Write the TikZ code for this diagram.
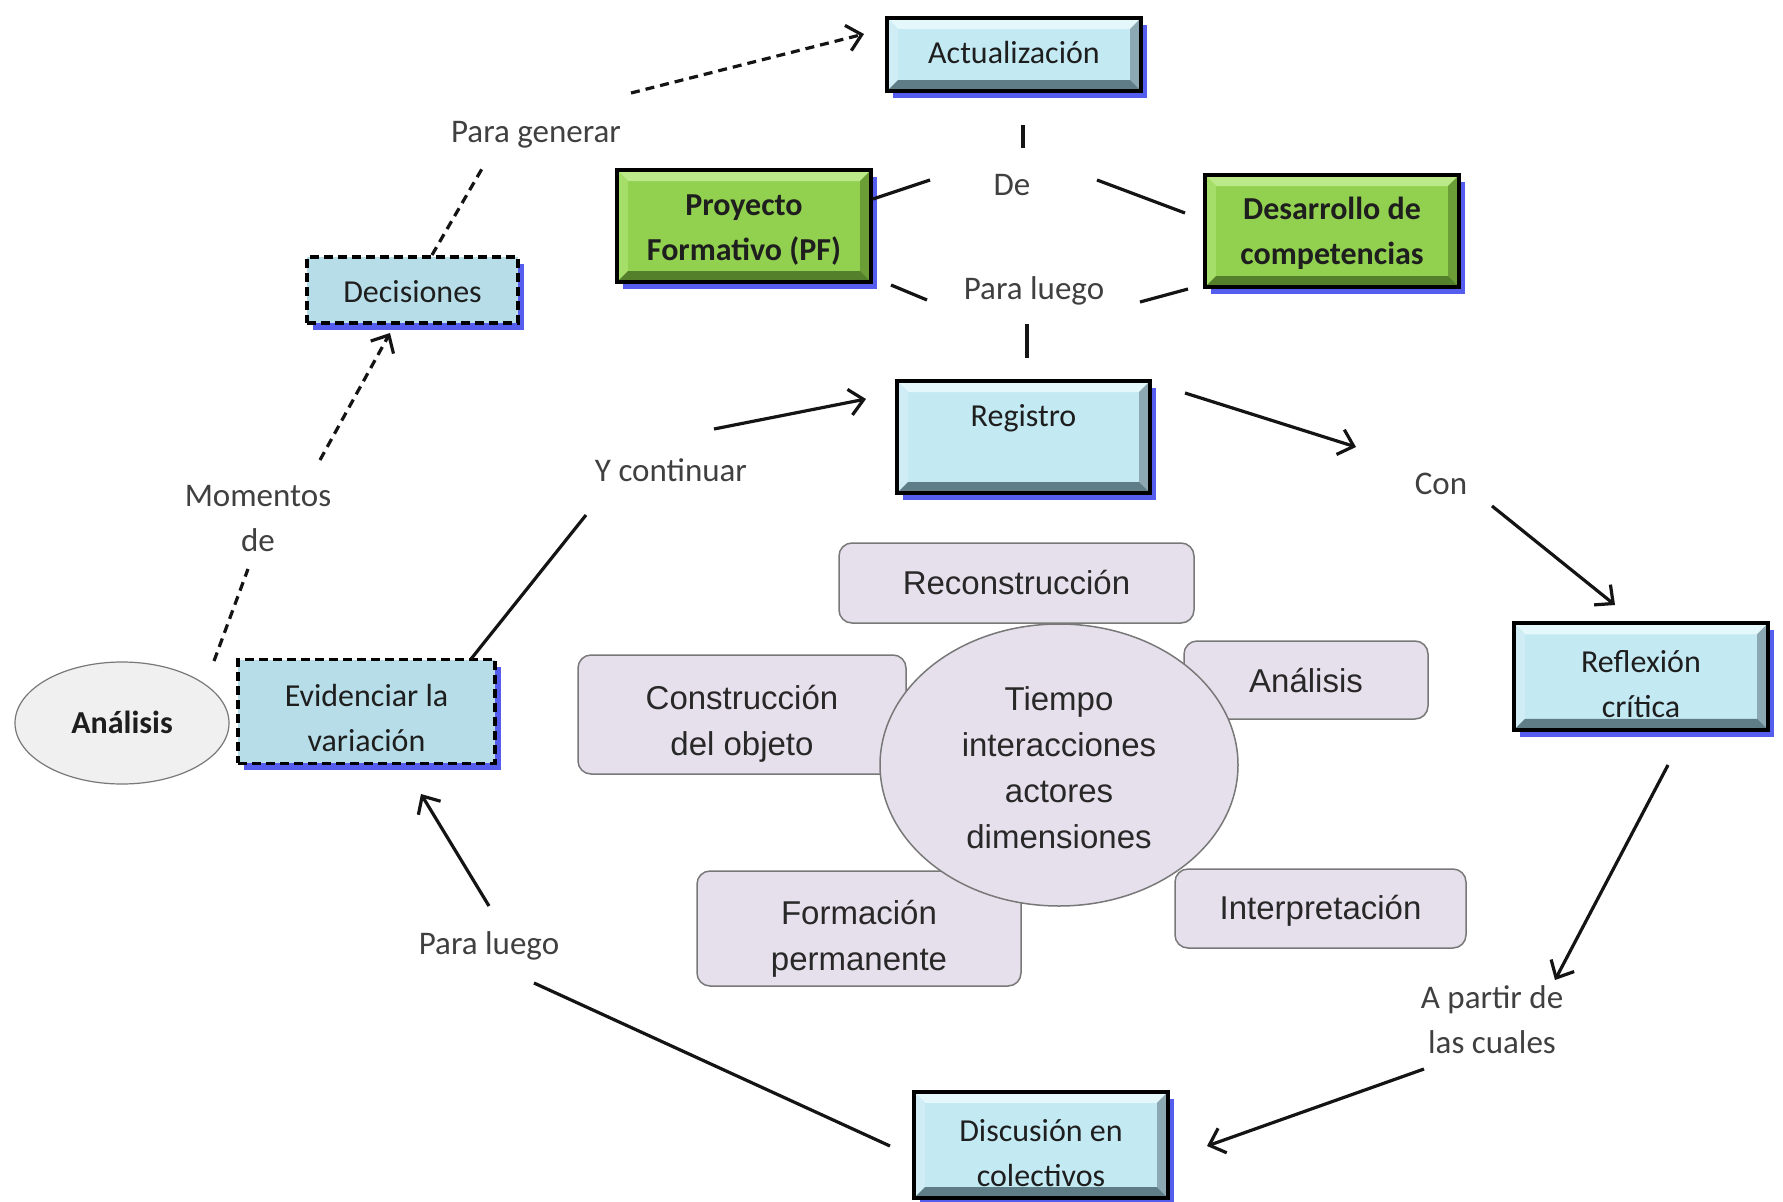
\documentclass[tikz,border=0pt]{standalone}
\usepackage{fontspec}
\setmainfont{Carlito}
\newfontfamily\arialf{Liberation Sans}
\usetikzlibrary{arrows.meta,shadows,shapes.geometric}
\definecolor{cyanf}{RGB}{195,233,243}
\definecolor{cyantop}{RGB}{228,247,251}
\definecolor{cyanleft}{RGB}{208,237,245}
\definecolor{cyanright}{RGB}{140,168,178}
\definecolor{cyanbot}{RGB}{95,125,135}
\definecolor{greenf}{RGB}{146,208,80}
\definecolor{greentop}{RGB}{188,234,138}
\definecolor{greenleft}{RGB}{165,222,104}
\definecolor{greenright}{RGB}{108,158,56}
\definecolor{greenbot}{RGB}{84,128,44}
\definecolor{dashf}{RGB}{183,222,232}
\definecolor{shblue}{RGB}{55,65,235}
\definecolor{lav}{RGB}{230,224,236}
\definecolor{lavline}{RGB}{120,120,120}
\definecolor{boxtext}{RGB}{30,30,30}
\definecolor{linktext}{RGB}{64,64,64}
\definecolor{ctext}{RGB}{40,40,40}
\definecolor{ellf}{RGB}{240,240,240}
\definecolor{linkc}{RGB}{20,20,20}
\newcommand{\boxfont}{\fontsize{32pt}{45pt}\selectfont}
\newcommand{\linkfont}{\fontsize{33pt}{45pt}\selectfont}
\newcommand{\cfont}{\arialf\fontsize{33pt}{46pt}\selectfont}
% invisible struts fixing the height above the first baseline and the depth below the last one
\newcommand{\sth}[1]{\rule{0pt}{#1}}
\newcommand{\std}[1]{\rule[-#1]{0pt}{0pt}}
\tikzset{
  bevelbox/.style n args={5}{draw=black, line width=4pt, fill=#1, inner sep=0pt,
    align=center, font=\boxfont, text=boxtext,
    drop shadow={shadow xshift=6pt, shadow yshift=-7pt, fill=shblue, opacity=.85},
    path picture={
      \fill[#2] (path picture bounding box.north west) -- (path picture bounding box.north east)
        -- ([xshift=-11pt,yshift=-11pt]path picture bounding box.north east)
        -- ([xshift=11pt,yshift=-11pt]path picture bounding box.north west) -- cycle;
      \fill[#3] (path picture bounding box.north west) -- (path picture bounding box.south west)
        -- ([xshift=11pt,yshift=11pt]path picture bounding box.south west)
        -- ([xshift=11pt,yshift=-11pt]path picture bounding box.north west) -- cycle;
      \fill[#4] (path picture bounding box.north east) -- (path picture bounding box.south east)
        -- ([xshift=-11pt,yshift=11pt]path picture bounding box.south east)
        -- ([xshift=-11pt,yshift=-11pt]path picture bounding box.north east) -- cycle;
      \fill[#5] (path picture bounding box.south west) -- (path picture bounding box.south east)
        -- ([xshift=-11pt,yshift=11pt]path picture bounding box.south east)
        -- ([xshift=11pt,yshift=11pt]path picture bounding box.south west) -- cycle;
    }},
  cyanbox/.style={bevelbox={cyanf}{cyantop}{cyanleft}{cyanright}{cyanbot}},
  greenbox/.style={bevelbox={greenf}{greentop}{greenleft}{greenright}{greenbot}, font=\boxfont\bfseries},
  dashbox/.style={draw=black, line width=3.5pt, dash pattern=on 9pt off 5pt, fill=dashf,
    inner sep=0pt, align=center, font=\boxfont, text=boxtext,
    drop shadow={shadow xshift=6pt, shadow yshift=-7pt, fill=shblue, opacity=.85}},
  linklabel/.style={inner sep=0pt, align=center, font=\linkfont, text=linktext},
  cbox/.style={draw=lavline, line width=1.5pt, fill=lav, rounded corners=13pt,
    inner sep=0pt, align=center, font=\cfont, text=ctext},
  link/.style={line width=3.2pt, draw=linkc},
  arr/.style={link, -{Straight Barb[length=14pt,width=26pt]}},
  dlink/.style={link, dash pattern=on 9pt off 6pt},
  darr/.style={arr, dash pattern=on 9pt off 6pt},
}
\begin{document}
\begin{tikzpicture}[x=1pt,y=-1pt]
\useasboundingbox[fill=white] (0,0) rectangle (1783,1202);

% central cluster
\node[cbox, minimum width=355, minimum height=80] (recon) at (1016.5,583) {\sth{35pt}Reconstrucción\std{12pt}};
\node[cbox, minimum width=328, minimum height=119] (constr) at (742,714.5) {\sth{47pt}Construcción\\del objeto\std{12pt}};
\node[cbox, minimum width=244, minimum height=78] (anal2) at (1306,680) {\sth{36.6pt}Análisis\std{12pt}};
\node[cbox, minimum width=324, minimum height=115] (form) at (859,928.5) {\sth{49pt}Formación\\permanente\std{12pt}};
\node[cbox, minimum width=291, minimum height=79] (interp) at (1320.5,908.5) {\sth{34.4pt}Interpretación\std{12pt}};
\node[ellipse, draw=lavline, line width=1.5pt, fill=lav, minimum width=358, minimum height=282,
  inner sep=0pt, align=center, font=\cfont, text=ctext] (cen) at (1059,765)
  {\sth{41.7pt}Tiempo\\interacciones\\actores\\dimensiones\std{12pt}};

% main boxes
\node[cyanbox, minimum width=254, minimum height=73] (act) at (1014,54.5) {\sth{30.4pt}Actualización\std{12pt}};
\node[greenbox, minimum width=254, minimum height=112] (pf) at (744,226) {\sth{35.3pt}Proyecto\\Formativo (PF)\std{12pt}};
\node[greenbox, minimum width=254, minimum height=112] (dc) at (1332,231) {\sth{34.4pt}Desarrollo de\\competencias\std{12pt}};
\node[cyanbox, minimum width=253, minimum height=112] (reg) at (1023.5,437) {\sth{28.8pt}Registro\std{50pt}};
\node[cyanbox, minimum width=254, minimum height=101] (refl) at (1641,676.5) {\sth{49.5pt}Reflexión\\crítica\std{12pt}};
\node[cyanbox, minimum width=254, minimum height=98] (disc) at (1041,1145) {\sth{49.4pt}Discusión en\\colectivos\std{12pt}};
\node[dashbox, minimum width=211, minimum height=66] (dec) at (412.5,290) {\sth{36.8pt}Decisiones\std{12pt}};
\node[dashbox, minimum width=257, minimum height=101] (ev) at (366.5,711.5) {\sth{46.6pt}Evidenciar la\\variación\std{12pt}};
\node[ellipse, draw=lavline, line width=1.2pt, fill=ellf, minimum width=214, minimum height=122,
  inner sep=0pt, font=\boxfont\bfseries, text=boxtext] (an) at (122,723) {\sth{32.8pt}Análisis\std{12pt}};

% linking phrases
\node[linklabel] (pgen) at (536,134.4) {Para generar};
\node[linklabel] (de) at (1012,185) {De};
\node[linklabel] (pl) at (1034,291.3) {Para luego};
\node[linklabel] (yc) at (671,470) {Y continuar};
\node[linklabel] (con) at (1441,484) {Con};
\node[linklabel] (mom) at (258,518.7) {Momentos\\de};
\node[linklabel] (apd) at (1492,1020) {A partir de\\las cuales};
\node[linklabel] (plb) at (489,946.3) {Para luego};

% connectors
\draw[dlink] ([shift={(19.5,-35)}]dec.center) -- ([shift={(-53,32.6)}]pgen.center);
\draw[darr] ([shift={(95,-41.4)}]pgen.center) -- ([shift={(-150,-20.5)}]act.center);
\draw[link] ([shift={(9,70.5)}]act.center) -- ([shift={(11,-37)}]de.center);
\draw[link] ([shift={(129,-27)}]pf.center) -- ([shift={(-82,-5)}]de.center);
\draw[link] ([shift={(85,-5)}]de.center) -- ([shift={(-147,-18)}]dc.center);
\draw[link] ([shift={(147,59)}]pf.center) -- ([shift={(-107,8.7)}]pl.center);
\draw[link] ([shift={(-144,58)}]dc.center) -- ([shift={(106,10.7)}]pl.center);
\draw[link] ([shift={(-7,32.7)}]pl.center) -- ([shift={(3.5,-79)}]reg.center);
\draw[link] ([shift={(104.5,-52.5)}]ev.center) -- ([shift={(-85,45)}]yc.center);
\draw[arr] ([shift={(43,-41)}]yc.center) -- ([shift={(-157.5,-38)}]reg.center);
\draw[arr] ([shift={(161.5,-44)}]reg.center) -- ([shift={(-85,-37)}]con.center);
\draw[arr] ([shift={(51,22)}]con.center) -- ([shift={(-26,-71.5)}]refl.center);
\draw[arr] ([shift={(27,88.5)}]refl.center) -- ([shift={(63,-40)}]apd.center);
\draw[arr] ([shift={(-68,49)}]apd.center) -- ([shift={(166,1)}]disc.center);
\draw[link] ([shift={(-151,1)}]disc.center) -- ([shift={(45,36.7)}]plb.center);
\draw[arr] ([shift={(0,-40.3)}]plb.center) -- ([shift={(54.5,82.5)}]ev.center);
\draw[dlink] ([shift={(92,-62)}]an.center) -- ([shift={(-10,50.3)}]mom.center);
\draw[darr] ([shift={(62,-58.7)}]mom.center) -- ([shift={(-22.5,43)}]dec.center);
\end{tikzpicture}
\end{document}
